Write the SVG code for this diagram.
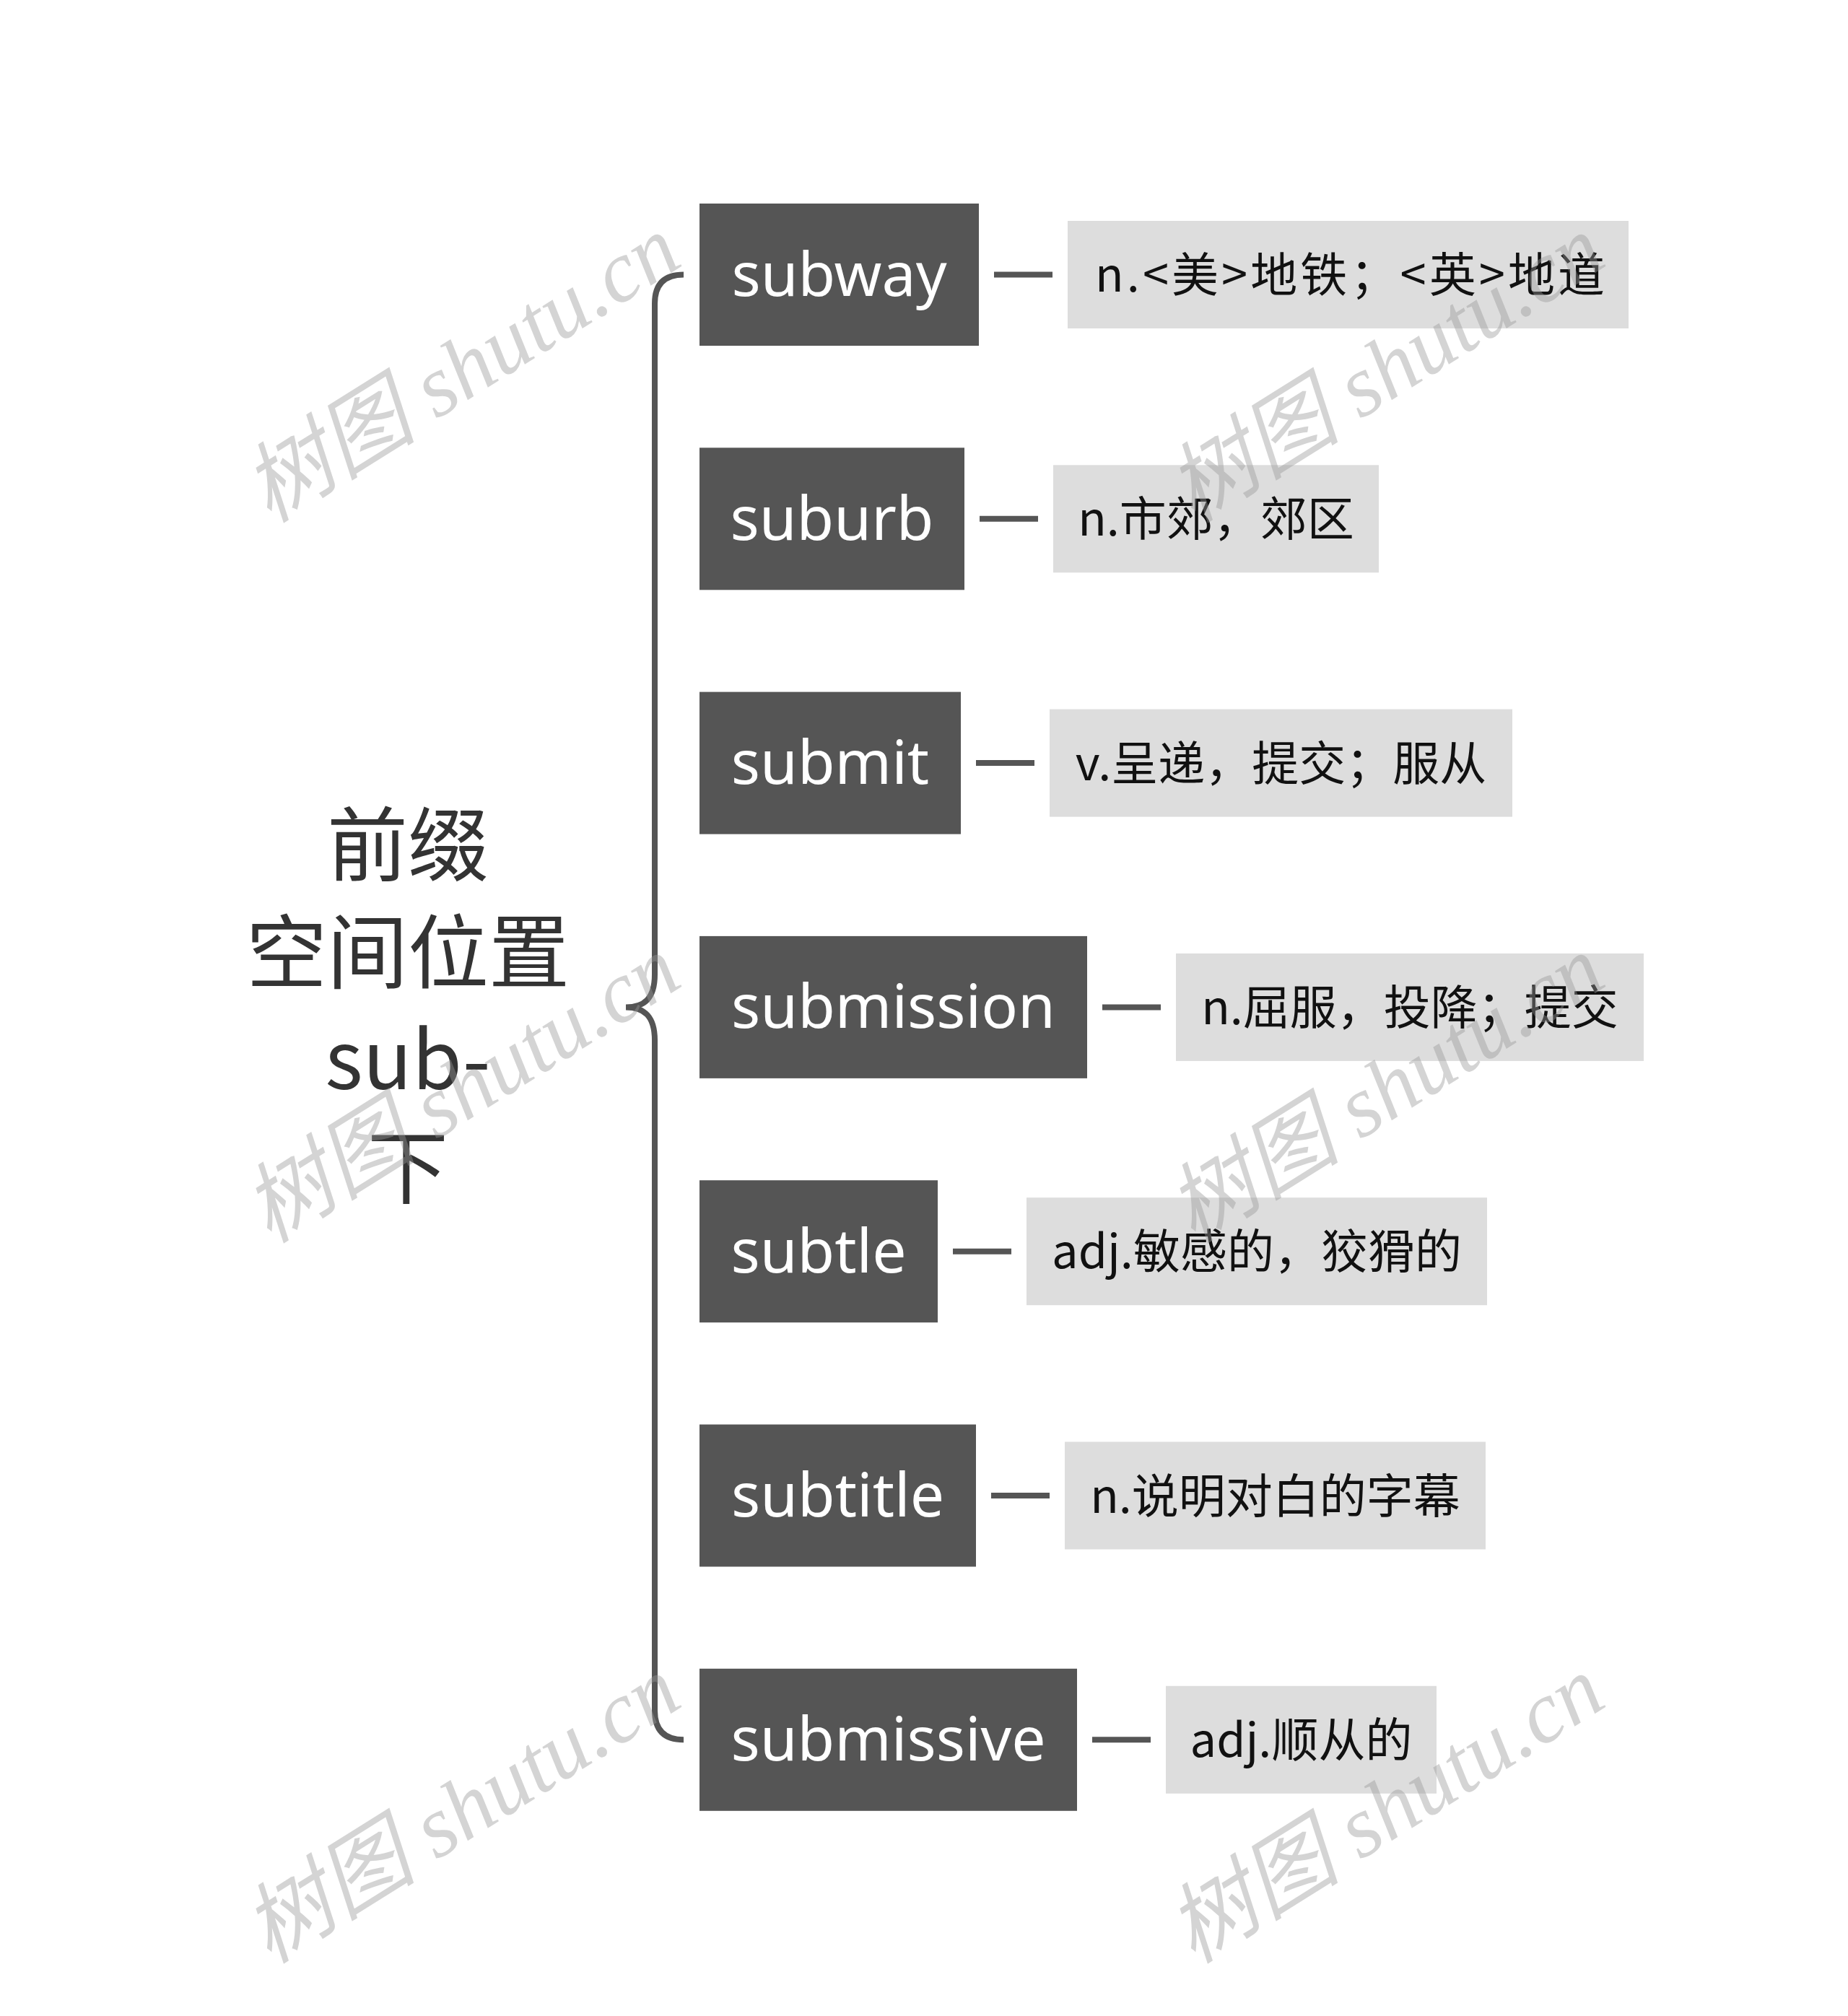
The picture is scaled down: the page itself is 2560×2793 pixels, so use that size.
<svg xmlns="http://www.w3.org/2000/svg" width="2560" height="2793" viewBox="0 0 2560 2793">
<style>
.node rect.main{fill:#555555}
.node rect.desc{fill:#dddddd}
.node text.mt{font-family:"Noto Sans","Open Sans",sans-serif;font-size:84px;fill:#ffffff;text-anchor:middle}
.node text.dt{font-family:"Noto Sans CJK SC","Noto Sans",sans-serif;font-size:65px;fill:#111111;text-anchor:middle}
.root text{font-family:"Noto Sans CJK SC","Noto Sans",sans-serif;font-size:112px;fill:#333333;text-anchor:middle}
.conn{stroke:#555555;stroke-width:8;fill:none}
.wm text{font-family:"Liberation Serif","Noto Sans CJK SC",serif;font-style:italic;font-size:121px;fill:#999999;fill-opacity:0.42;text-anchor:middle}
</style>
<rect x="0" y="0" width="2560" height="2793" fill="#ffffff"/>
<g id="connectors">
<path class="conn" d="M947 380.5 Q907 380.5 907 420.5 L907 1350 C907 1384 892 1395.4 867 1395.4 C892 1395.4 907 1407 907 1441 L907 2370 Q907 2410.3 947 2410.3"/>
<line class="conn" x1="1377" y1="380.5" x2="1458" y2="380.5"/>
<line class="conn" x1="1357" y1="718.8" x2="1438" y2="718.8"/>
<line class="conn" x1="1352" y1="1057.1" x2="1433" y2="1057.1"/>
<line class="conn" x1="1527" y1="1395.4" x2="1608" y2="1395.4"/>
<line class="conn" x1="1320" y1="1733.7" x2="1401" y2="1733.7"/>
<line class="conn" x1="1373" y1="2072" x2="1454" y2="2072"/>
<line class="conn" x1="1513" y1="2410.3" x2="1594" y2="2410.3"/>
</g>
<g id="root" class="root">
<text x="565" y="1212">前缀</text>
<text x="565" y="1361">空间位置</text>
<text x="565" y="1509">sub-</text>
<text x="565" y="1659">下</text>
</g>
<g id="n-subway" class="node">
<rect class="main" x="969" y="282" width="387" height="197"/>
<text class="mt" x="1162.5" y="409.5">subway</text>
<rect class="desc" x="1479" y="306" width="777" height="149"/>
<text class="dt" x="1870" y="404" textLength="706" lengthAdjust="spacing">n.&lt;美&gt;地铁；&lt;英&gt;地道</text>
</g>
<g id="n-suburb" class="node">
<rect class="main" x="969" y="620.3" width="367" height="197"/>
<text class="mt" x="1152.5" y="747.8">suburb</text>
<rect class="desc" x="1459" y="644.3" width="451" height="149"/>
<text class="dt" x="1684.5" y="742.3">n.市郊，郊区</text>
</g>
<g id="n-submit" class="node">
<rect class="main" x="969" y="958.6" width="362" height="197"/>
<text class="mt" x="1150" y="1086.1">submit</text>
<rect class="desc" x="1454" y="982.6" width="641" height="149"/>
<text class="dt" x="1774.5" y="1080.6">v.呈递，提交；服从</text>
</g>
<g id="n-submission" class="node">
<rect class="main" x="969" y="1296.9" width="537" height="197"/>
<text class="mt" x="1237.5" y="1424.4">submission</text>
<rect class="desc" x="1629" y="1320.9" width="648" height="149"/>
<text class="dt" x="1953" y="1418.9">n.屈服，投降；提交</text>
</g>
<g id="n-subtle" class="node">
<rect class="main" x="969" y="1635.2" width="330" height="197"/>
<text class="mt" x="1134" y="1762.7">subtle</text>
<rect class="desc" x="1422" y="1659.2" width="638" height="149"/>
<text class="dt" x="1741" y="1757.2">adj.敏感的，狡猾的</text>
</g>
<g id="n-subtitle" class="node">
<rect class="main" x="969" y="1973.5" width="383" height="197"/>
<text class="mt" x="1160.5" y="2101">subtitle</text>
<rect class="desc" x="1475" y="1997.5" width="583" height="149"/>
<text class="dt" x="1766.5" y="2095.5">n.说明对白的字幕</text>
</g>
<g id="n-submissive" class="node">
<rect class="main" x="969" y="2311.8" width="523" height="197"/>
<text class="mt" x="1230.5" y="2439.3">submissive</text>
<rect class="desc" x="1615" y="2335.8" width="375" height="149"/>
<text class="dt" x="1802.5" y="2433.8">adj.顺从的</text>
</g>
<g id="watermarks" class="wm">
<text transform="translate(640,512) rotate(-32)" x="0" y="40">树图 shutu.cn</text>
<text transform="translate(1920,512) rotate(-32)" x="0" y="40">树图 shutu.cn</text>
<text transform="translate(640,1510) rotate(-32)" x="0" y="40">树图 shutu.cn</text>
<text transform="translate(1920,1510) rotate(-32)" x="0" y="40">树图 shutu.cn</text>
<text transform="translate(640,2508) rotate(-32)" x="0" y="40">树图 shutu.cn</text>
<text transform="translate(1920,2508) rotate(-32)" x="0" y="40">树图 shutu.cn</text>
</g>
</svg>
